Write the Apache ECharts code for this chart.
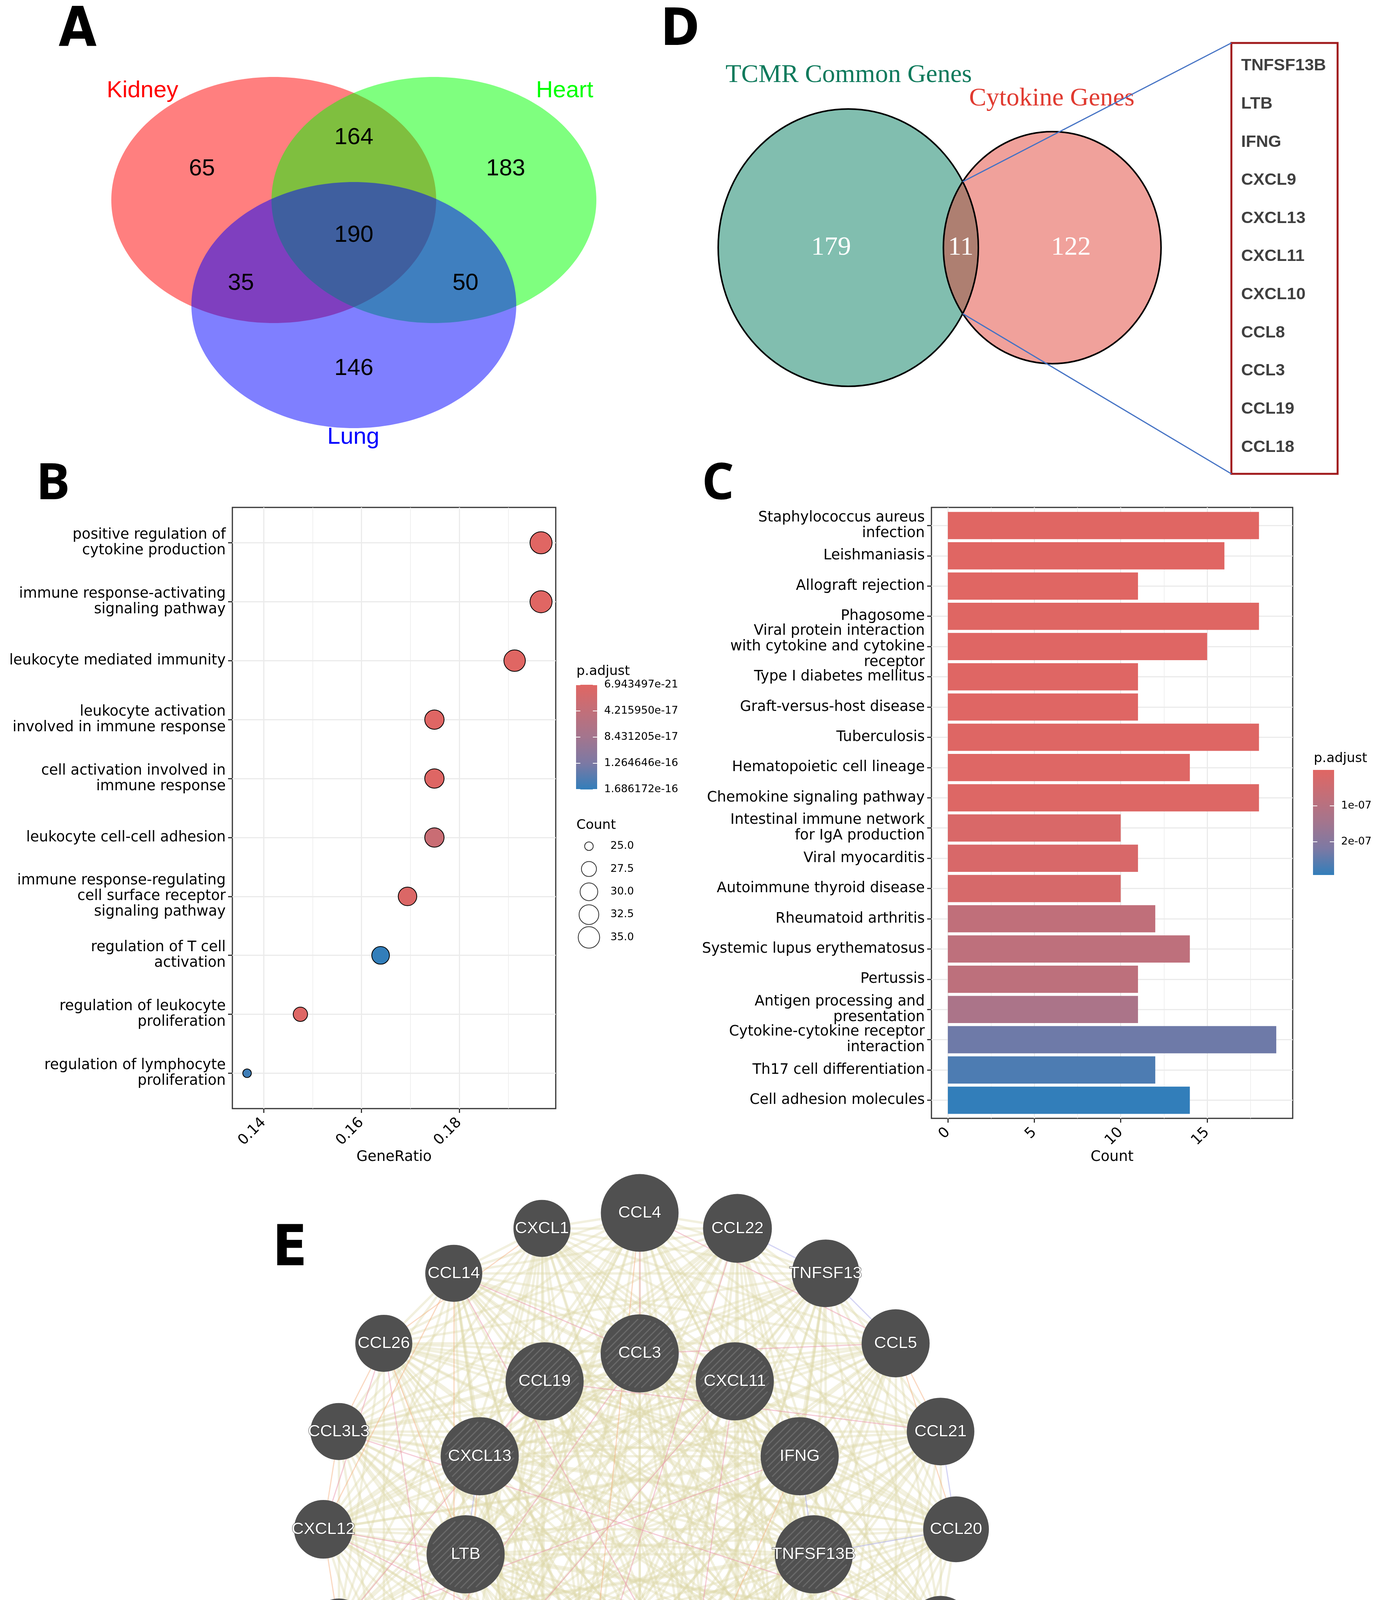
<!DOCTYPE html>
<html>
<head>
<meta charset="utf-8">
<title>TCMR figure</title>
<script src="https://cdn.jsdelivr.net/npm/echarts@6.0.0/dist/echarts.min.js"></script>
<style>
html,body{margin:0;padding:0;background:#ffffff;}
#chart{width:3531px;height:4826px;}
</style>
</head>
<body>
<div id="chart"></div>
<script>
// ======================= DATA =======================
// Panel A : three-organ Venn diagram
const organSets = ['Kidney', 'Heart', 'Lung'];
// Kidney only, Kidney&Heart, Heart only, all three, Kidney&Lung, Heart&Lung, Lung only
const organRegionCounts = [65, 164, 183, 190, 35, 50, 146];

// Panel D : TCMR common genes vs cytokine genes
const tcmrSets = ['TCMR Common Genes', 'Cytokine Genes'];
const tcmrRegionCounts = [179, 11, 122];   // TCMR only, shared, cytokine only
const sharedGenes = ['TNFSF13B', 'LTB', 'IFNG', 'CXCL9', 'CXCL13', 'CXCL11', 'CXCL10', 'CCL8', 'CCL3', 'CCL19', 'CCL18'];

// Panel B : GO enrichment dot plot
const goTerms = [
  'positive regulation of cytokine production',
  'immune response-activating signaling pathway',
  'leukocyte mediated immunity',
  'leukocyte activation involved in immune response',
  'cell activation involved in immune response',
  'leukocyte cell-cell adhesion',
  'immune response-regulating cell surface receptor signaling pathway',
  'regulation of T cell activation',
  'regulation of leukocyte proliferation',
  'regulation of lymphocyte proliferation'
];
const goGeneRatio = [0.1967, 0.1967, 0.1913, 0.1749, 0.1749, 0.1749, 0.1694, 0.1639, 0.1475, 0.1366];
const goCount = [36, 36, 35, 32, 32, 32, 31, 30, 27, 25];
const goPAdjust = [6.943497e-21, 4.1e-20, 1.2e-19, 9.7e-19, 2.2e-18, 3.2e-17, 6.5e-18, 1.686172e-16, 3.1e-18, 1.62e-16];
const goRatioTicks = [0.14, 0.16, 0.18];
const goRatioMinorTicks = [0.15, 0.17, 0.19];
const goPTickLabels = ['6.943497e-21', '4.215950e-17', '8.431205e-17', '1.264646e-16', '1.686172e-16'];
const countLegendValues = [25.0, 27.5, 30.0, 32.5, 35.0];

// Panel C : KEGG enrichment bar plot
const keggTerms = [
  'Staphylococcus aureus infection',
  'Leishmaniasis',
  'Allograft rejection',
  'Phagosome',
  'Viral protein interaction with cytokine and cytokine receptor',
  'Type I diabetes mellitus',
  'Graft-versus-host disease',
  'Tuberculosis',
  'Hematopoietic cell lineage',
  'Chemokine signaling pathway',
  'Intestinal immune network for IgA production',
  'Viral myocarditis',
  'Autoimmune thyroid disease',
  'Rheumatoid arthritis',
  'Systemic lupus erythematosus',
  'Pertussis',
  'Antigen processing and presentation',
  'Cytokine-cytokine receptor interaction',
  'Th17 cell differentiation',
  'Cell adhesion molecules'
];
const keggCount = [18, 16, 11, 18, 15, 11, 11, 18, 14, 18, 10, 11, 10, 12, 14, 11, 11, 19, 12, 14];
const keggPAdjust = [1.2e-10, 4.5e-10, 9.0e-10, 1.4e-9, 2.2e-9, 3.0e-9, 3.4e-9, 4.1e-9, 5.5e-9, 8.0e-9,
                     1.6e-8, 1.9e-8, 2.4e-8, 7.8e-8, 8.2e-8, 8.4e-8, 1.28e-7, 2.33e-7, 2.65e-7, 2.92e-7];
const keggCountTicks = [0, 5, 10, 15];
const keggCountMinorTicks = [2.5, 7.5, 12.5, 17.5];
const keggPTickValues = [1e-7, 2e-7];
const keggPTickLabels = ['1e-07', '2e-07'];

// Panel E : gene network
const hubGenes = ['CCL3', 'CXCL11', 'IFNG', 'TNFSF13B', 'CCL8', 'CXCL10', 'CCL18', 'CXCL9', 'LTB', 'CXCL13', 'CCL19'];
const neighbourGenes = ['CCL4', 'CCL22', 'TNFSF13', 'CCL5', 'CCL21', 'CCL20', 'CCL4L2', 'CCL2', 'CXCL8', 'CCL7',
                        'PF4V1', 'XCL2', 'CCL11', 'CCL3L1', 'PSMB10', 'CXCL12', 'CCL3L3', 'CCL26', 'CCL14', 'CXCL1'];
const neighbourScore = [1.00, 0.57, 0.51, 0.53, 0.51, 0.42, 0.26, 0.30, 0.23, 0.08,
                        0.00, 0.02, 0.00, 0.02, 0.00, 0.08, 0.00, 0.00, 0.00, 0.00];
const physicalEdges = [['CCL3','CCL4'],['CCL3','CCL5'],['CCL4','CCL5'],['CXCL9','CXCL10'],['CXCL10','CXCL11'],
  ['CXCL9','CXCL11'],['CCL19','CCL21'],['CXCL12','CXCL8'],['CCL2','CCL7'],['CCL2','CCL8'],['CCL7','CCL8'],
  ['CCL11','CCL26'],['CCL3L1','CCL3'],['CCL3L3','CCL4L2'],['PSMB10','IFNG'],['CXCL12','CCL26'],['CCL14','CCL3'],
  ['CXCL13','CCL19'],['CCL18','CCL22'],['CCL3L1','CCL18'],['PSMB10','CCL19'],['CCL14','CXCL10'],['CXCL12','LTB']];
const predictedEdges = [['CCL14','CXCL12'],['CCL26','CCL3L3'],['CCL3L3','CXCL12'],['PSMB10','CXCL12'],['CCL18','CCL4'],
  ['CXCL1','CCL26'],['CCL11','CCL14'],['CCL5','CCL21'],['CCL5','CCL20'],['IFNG','CXCL10'],['CXCL13','CCL11'],
  ['CCL8','CXCL8'],['CCL26','LTB'],['CCL3L1','CCL11']];
const colocalEdges = [['CCL22','TNFSF13'],['TNFSF13','CCL5'],['CCL4L2','CCL2'],['CCL2','CXCL8'],['CCL7','PF4V1'],
  ['XCL2','PF4V1'],['PF4V1','CCL11'],['CCL21','CCL20'],['LTB','CXCL13'],['IFNG','TNFSF13B'],['CCL20','TNFSF13B']];

// ======================= LAYOUT & STYLE =======================
const GRAD = ['#e06663', '#c26f79', '#a3758e', '#7c79a4', '#327eba'];
const F_SANS = "'DejaVu Sans', sans-serif";
const F_ARIAL = "'Liberation Sans', Arial, sans-serif";
const F_SERIF = "'Liberation Serif', 'Times New Roman', serif";
const F_LETTER = "'DejaVu Sans Condensed', 'DejaVu Sans', sans-serif";
const F_LETTER2 = "'Open Sans', 'DejaVu Sans', sans-serif";

const LAYOUT = {
  A: { grid: {left: 285, top: 197, width: 1242, height: 900}, xMax: 2.986, yMax: 2.857,
       centres: [[1.0, 1.0], [1.986, 1.0], [1.493, 1.854]], radius: 1.0,
       fills: ['rgba(255,0,0,0.5)', 'rgba(0,255,0,0.5)', 'rgba(0,0,255,0.5)'],
       labelColors: ['#ff0000', '#00ff00', '#0000ff'],
       regionPos: [[0.558, 0.749], [1.493, 0.492], [2.428, 0.749], [1.493, 1.286], [0.798, 1.679], [2.180, 1.679], [1.493, 2.368]],
       setLabelPos: [[0.192, 0.114], [2.791, 0.114], [1.490, 2.927]] },
  D: { grid: {left: 1839, top: 279, width: 1134, height: 710}, xMax: 3.405, yMax: 2.0,
       centres: [[1.0, 1.0], [2.568, 1.0]],
       fills: ['rgba(3,125,95,0.5)', 'rgba(224,59,45,0.48)'],
       titleColors: ['#0e7a5c', '#e03a30'],
       titlePos: [[1.003, -0.242], [2.565, -0.073]],
       regionPos: [[0.868, 1.0], [1.865, 1.0], [2.712, 1.0]] },
  DBox: {left: 3153, top: 110, width: 272, height: 1103},
  B: {left: 595, top: 1299, width: 828, height: 1539},
  BBar: {left: 1475, top: 1753, width: 54, height: 268},
  BCount: {left: 1470, top: 2137, width: 76, height: 292},
  C: {left: 2385, top: 1299, width: 925, height: 1564},
  CBar: {left: 3362, top: 1971, width: 54, height: 269},
  E: {cx: 1638, cy: 3915, unit: 810, innerR: 0.556, span: 1.2, hubSize: 200}
};

// ======================= HELPERS =======================
function wrapLabel(s, w) {
  const words = s.split(' '); const lines = []; let cur = '';
  words.forEach(wd => {
    if (!cur) cur = wd;
    else if ((cur + ' ' + wd).length <= w) cur += ' ' + wd;
    else { lines.push(cur); cur = wd; }
  });
  if (cur) lines.push(cur);
  return lines.join('\n');
}
function txt(x, y, text, o) {
  o = o || {};
  const align = o.align || 'center';
  return { type: 'text', x: x, y: y, silent: true,
    style: { text: text, fill: o.fill || '#000', fontSize: o.fontSize || 40, fontFamily: o.fontFamily || F_ARIAL,
      fontWeight: o.fontWeight || 'normal', align: align, verticalAlign: 'middle',
      textAlign: align, textVerticalAlign: 'middle' } };
}
const cMin = Math.min.apply(null, goCount), cMax = Math.max.apply(null, goCount);
function dotSize(c) { return 22 + (56.5 - 22) * Math.sqrt(Math.max(0, (c - cMin)) / (cMax - cMin)); }
function grid(r, extra) { return Object.assign({left: r.left, top: r.top, width: r.width, height: r.height, outerBoundsMode: 'none', containLabel: false}, extra || {}); }
function hiddenAxis(gi, min, max, inverse) { return {gridIndex: gi, type: 'value', show: false, min: min, max: max, inverse: !!inverse, axisLine: {onZero: false}}; }

// derived ranges
const bxMinD = Math.min.apply(null, goGeneRatio), bxMaxD = Math.max.apply(null, goGeneRatio);
const bxPad = (bxMaxD - bxMinD) * 0.05;
const cxMaxD = Math.max.apply(null, keggCount);
const cxPad = cxMaxD * 0.05;
const pMinB = Math.min.apply(null, goPAdjust), pMaxB = Math.max.apply(null, goPAdjust);
const pMinC = Math.min.apply(null, keggPAdjust), pMaxC = Math.max.apply(null, keggPAdjust);

// Venn D radii: area proportional to set sizes
const tcmrTotals = [tcmrRegionCounts[0] + tcmrRegionCounts[1], tcmrRegionCounts[2] + tcmrRegionCounts[1]];
const rD = tcmrTotals.map(t => Math.sqrt(t / tcmrTotals[0]));
const dC0 = LAYOUT.D.centres[0], dC1 = LAYOUT.D.centres[1];
const dd = dC1[0] - dC0[0];
const da = (dd * dd + rD[0] * rD[0] - rD[1] * rD[1]) / (2 * dd);
const dh = Math.sqrt(rD[0] * rD[0] - da * da);
const lensPts = [[dC0[0] + da, dC0[1] - dh], [dC0[0] + da, dC0[1] + dh]];

// network
const allGenes = hubGenes.concat(neighbourGenes);
const nodes = [];
hubGenes.forEach((g, j) => {
  const t = j * 2 * Math.PI / hubGenes.length;
  nodes.push({name: g, value: [LAYOUT.E.innerR * Math.sin(t), LAYOUT.E.innerR * Math.cos(t)], symbolSize: LAYOUT.E.hubSize,
    itemStyle: {color: '#505050'}});
});
neighbourGenes.forEach((g, i) => {
  const t = i * 2 * Math.PI / neighbourGenes.length;
  nodes.push({name: g, value: [Math.sin(t), Math.cos(t)], symbolSize: 146 + 53 * neighbourScore[i],
    itemStyle: {color: '#505050'}});
});
const special = {};
physicalEdges.forEach(e => { special[e[0] + '|' + e[1]] = special[e[1] + '|' + e[0]] = 'rgba(232,140,165,1)'; });
predictedEdges.forEach(e => { special[e[0] + '|' + e[1]] = special[e[1] + '|' + e[0]] = 'rgba(244,170,120,1)'; });
colocalEdges.forEach(e => { special[e[0] + '|' + e[1]] = special[e[1] + '|' + e[0]] = 'rgba(160,160,230,1)'; });
const baseLinks = [], colLinks = [];
for (let i = 0; i < allGenes.length; i++) {
  for (let j = i + 1; j < allGenes.length; j++) {
    const key = allGenes[i] + '|' + allGenes[j];
    if (special[key]) colLinks.push({source: allGenes[i], target: allGenes[j], lineStyle: {color: special[key], opacity: 0.45, width: 3}});
    else baseLinks.push({source: allGenes[i], target: allGenes[j]});
  }
}
const links = baseLinks.concat(colLinks);

const idxB = goTerms.map((t, i) => i);
const idxC = keggTerms.map((t, i) => i);

// ======================= CHART =======================
const chart = echarts.init(document.getElementById('chart'), null, {renderer: 'canvas', width: 3531, height: 4826});

const tickStyle = {color: '#333333', width: 3};
const gridLine = {color: '#ebebeb', width: 3};
const gridLineMinor = {color: '#ebebeb', width: 1.5};
const axLab = {fontSize: 37, color: '#000', fontFamily: F_SANS, hideOverlap: false};

const option = {
  animation: false,
  backgroundColor: '#ffffff',
  title: [
    {text: 'A', left: 150, top: 12, padding: 0, textStyle: {fontSize: 140, lineHeight: 140, fontWeight: 'bold', fontFamily: F_LETTER, color: '#000'}},
    {text: 'D', left: 1692, top: 15, padding: 0, textStyle: {fontSize: 132, lineHeight: 132, fontWeight: 'bold', fontFamily: F_LETTER, color: '#000'}},
    {text: 'B', left: 92, top: 1176, padding: 0, textStyle: {fontSize: 130, lineHeight: 130, fontWeight: 'bold', fontFamily: F_LETTER2, color: '#000'}},
    {text: 'C', left: 1797, top: 1176, padding: 0, textStyle: {fontSize: 130, lineHeight: 130, fontWeight: 'bold', fontFamily: F_LETTER2, color: '#000'}},
    {text: 'E', left: 698, top: 3130, padding: 0, textStyle: {fontSize: 144, lineHeight: 144, fontWeight: 'bold', fontFamily: F_LETTER, color: '#000'}},
    {text: 'p.adjust', left: 1476, top: 1702, padding: 0, textStyle: {fontSize: 34, lineHeight: 34, fontWeight: 'normal', fontFamily: F_SANS, color: '#000'}},
    {text: 'Count', left: 1476, top: 2096, padding: 0, textStyle: {fontSize: 34, lineHeight: 34, fontWeight: 'normal', fontFamily: F_SANS, color: '#000'}},
    {text: 'p.adjust', left: 3364, top: 1925, padding: 0, textStyle: {fontSize: 34, lineHeight: 34, fontWeight: 'normal', fontFamily: F_SANS, color: '#000'}}
  ],
  grid: [
    grid(LAYOUT.A.grid),                       // 0
    grid(LAYOUT.D.grid),                       // 1
    grid(LAYOUT.DBox, {show: true, borderColor: '#a0191b', borderWidth: 5, backgroundColor: 'transparent'}), // 2
    grid(LAYOUT.B, {show: true, borderColor: '#333333', borderWidth: 3, backgroundColor: 'transparent'}),    // 3
    grid(LAYOUT.BBar),                         // 4
    grid(LAYOUT.BCount),                       // 5
    grid(LAYOUT.C, {show: true, borderColor: '#333333', borderWidth: 3, backgroundColor: 'transparent'}),    // 6
    grid(LAYOUT.CBar),                         // 7
    grid({left: LAYOUT.E.cx - LAYOUT.E.span * LAYOUT.E.unit, top: LAYOUT.E.cy - LAYOUT.E.span * LAYOUT.E.unit,
          width: 2 * LAYOUT.E.span * LAYOUT.E.unit, height: 2 * LAYOUT.E.span * LAYOUT.E.unit}) // 8
  ],
  xAxis: [
    hiddenAxis(0, 0, LAYOUT.A.xMax),
    hiddenAxis(1, 0, LAYOUT.D.xMax),
    hiddenAxis(2, 0, 1),
    { gridIndex: 3, type: 'value', min: bxMinD - bxPad, max: bxMaxD + bxPad, position: 'bottom',
      axisLine: {show: false, onZero: false},
      axisTick: {show: true, length: 11, lineStyle: tickStyle, customValues: goRatioTicks},
      axisLabel: Object.assign({customValues: goRatioTicks, rotate: 45, margin: 30, formatter: v => v.toFixed(2)}, axLab),
      splitLine: {show: true, lineStyle: gridLine},
      name: 'GeneRatio', nameLocation: 'middle', nameGap: 103,
      nameTextStyle: {fontSize: 37, lineHeight: 40, color: '#000', fontFamily: F_SANS} },
    { gridIndex: 3, type: 'value', min: bxMinD - bxPad, max: bxMaxD + bxPad, position: 'top',
      axisLine: {show: false, onZero: false}, axisTick: {show: false, customValues: goRatioMinorTicks},
      axisLabel: {show: false}, splitLine: {show: true, lineStyle: gridLineMinor} },
    hiddenAxis(4, 0, 1),
    hiddenAxis(5, 0, 1),
    { gridIndex: 6, type: 'value', min: -cxPad, max: cxMaxD + cxPad, position: 'bottom',
      axisLine: {show: false, onZero: false},
      axisTick: {show: true, length: 11, lineStyle: tickStyle, customValues: keggCountTicks},
      axisLabel: Object.assign({customValues: keggCountTicks, rotate: 45, margin: 30, formatter: v => String(v)}, axLab),
      splitLine: {show: true, lineStyle: gridLine},
      name: 'Count', nameLocation: 'middle', nameGap: 78,
      nameTextStyle: {fontSize: 37, lineHeight: 40, color: '#000', fontFamily: F_SANS} },
    { gridIndex: 6, type: 'value', min: -cxPad, max: cxMaxD + cxPad, position: 'top',
      axisLine: {show: false, onZero: false}, axisTick: {show: false, customValues: keggCountMinorTicks},
      axisLabel: {show: false}, splitLine: {show: true, lineStyle: gridLineMinor} },
    hiddenAxis(7, 0, 1),
    hiddenAxis(8, -LAYOUT.E.span, LAYOUT.E.span)
  ],
  yAxis: [
    hiddenAxis(0, 0, LAYOUT.A.yMax, true),
    hiddenAxis(1, 0, LAYOUT.D.yMax, true),
    hiddenAxis(2, -0.6, sharedGenes.length - 1 + 0.7, true),
    { gridIndex: 3, type: 'value', inverse: true, min: -0.6, max: goTerms.length - 1 + 0.6,
      axisLine: {show: false, onZero: false},
      axisTick: {show: true, length: 11, lineStyle: tickStyle, customValues: idxB},
      axisLabel: Object.assign({customValues: idxB, margin: 17, lineHeight: 40,
        formatter: v => wrapLabel(goTerms[Math.round(v)], 28)}, axLab),
      splitLine: {show: true, lineStyle: gridLine} },
    { gridIndex: 4, type: 'value', inverse: true, min: 0, max: goPTickLabels.length - 1, position: 'right', z: 10,
      axisLine: {show: false, onZero: false}, splitLine: {show: false},
      axisTick: {show: true, inside: true, length: 11, lineStyle: {color: '#ffffff', width: 2}, customValues: [0, 1, 2, 3, 4]},
      axisLabel: {customValues: [0, 1, 2, 3, 4], margin: 18, fontSize: 27, color: '#000', fontFamily: F_SANS, hideOverlap: false,
        formatter: v => goPTickLabels[Math.round(v)]} },
    { gridIndex: 4, type: 'value', inverse: true, min: 0, max: goPTickLabels.length - 1, position: 'left', z: 10,
      axisLine: {show: false, onZero: false}, splitLine: {show: false}, axisLabel: {show: false},
      axisTick: {show: true, inside: true, length: 11, lineStyle: {color: '#ffffff', width: 2}, customValues: [0, 1, 2, 3, 4]} },
    { gridIndex: 5, type: 'category', inverse: true, position: 'right', data: countLegendValues.map(v => v.toFixed(1)),
      axisLine: {show: false, onZero: false}, axisTick: {show: false}, splitLine: {show: false},
      axisLabel: {margin: 17, fontSize: 27, color: '#000', fontFamily: F_SANS, interval: 0, hideOverlap: false} },
    { gridIndex: 6, type: 'value', inverse: true, min: -0.6, max: keggTerms.length - 1 + 0.6,
      axisLine: {show: false, onZero: false},
      axisTick: {show: true, length: 11, lineStyle: tickStyle, customValues: idxC},
      axisLabel: Object.assign({customValues: idxC, margin: 17, lineHeight: 40,
        formatter: v => wrapLabel(keggTerms[Math.round(v)], 28)}, axLab),
      splitLine: {show: true, lineStyle: gridLine} },
    { gridIndex: 7, type: 'value', inverse: true, min: pMinC, max: pMaxC, position: 'right', z: 10,
      axisLine: {show: false, onZero: false}, splitLine: {show: false},
      axisTick: {show: true, inside: true, length: 11, lineStyle: {color: '#ffffff', width: 2}, customValues: keggPTickValues},
      axisLabel: {customValues: keggPTickValues, margin: 18, fontSize: 27, color: '#000', fontFamily: F_SANS, hideOverlap: false,
        formatter: v => { let best = 0; keggPTickValues.forEach((t, i) => { if (Math.abs(t - v) < Math.abs(keggPTickValues[best] - v)) best = i; }); return keggPTickLabels[best]; }} },
    { gridIndex: 7, type: 'value', inverse: true, min: pMinC, max: pMaxC, position: 'left', z: 10,
      axisLine: {show: false, onZero: false}, splitLine: {show: false}, axisLabel: {show: false},
      axisTick: {show: true, inside: true, length: 11, lineStyle: {color: '#ffffff', width: 2}, customValues: keggPTickValues} },
    hiddenAxis(8, -LAYOUT.E.span, LAYOUT.E.span)
  ],
  visualMap: [
    {type: 'continuous', show: false, seriesIndex: 8, dimension: 2, min: pMinB, max: pMaxB, inRange: {color: GRAD}},
    {type: 'continuous', show: false, seriesIndex: 11, dimension: 2, min: pMinC, max: pMaxC, inRange: {color: GRAD}}
  ],
  series: [
    // 0 Venn A fills
    { type: 'custom', xAxisIndex: 0, yAxisIndex: 0, clip: false, silent: true,
      data: organSets.map((s, i) => [LAYOUT.A.centres[i][0], LAYOUT.A.centres[i][1], LAYOUT.A.radius]),
      renderItem: (params, api) => {
        const c = api.coord([api.value(0), api.value(1)]);
        const s = api.size([api.value(2), api.value(2)]);
        return {type: 'ellipse', shape: {cx: c[0], cy: c[1], rx: s[0], ry: s[1]}, style: {fill: LAYOUT.A.fills[params.dataIndex]}};
      } },
    // 1 Venn A region counts
    { type: 'custom', xAxisIndex: 0, yAxisIndex: 0, clip: false, silent: true, z: 5,
      data: organRegionCounts.map((c, i) => [LAYOUT.A.regionPos[i][0], LAYOUT.A.regionPos[i][1], c]),
      renderItem: (params, api) => {
        const p = api.coord([api.value(0), api.value(1)]);
        return txt(p[0], p[1], String(api.value(2)), {fontSize: 60, fontFamily: F_ARIAL, fill: '#000'});
      } },
    // 2 Venn A set labels
    { type: 'custom', xAxisIndex: 0, yAxisIndex: 0, clip: false, silent: true, z: 5,
      data: organSets.map((s, i) => [LAYOUT.A.setLabelPos[i][0], LAYOUT.A.setLabelPos[i][1]]),
      renderItem: (params, api) => {
        const p = api.coord([api.value(0), api.value(1)]);
        return txt(p[0], p[1], organSets[params.dataIndex], {fontSize: 60, fontFamily: F_ARIAL, fill: LAYOUT.A.labelColors[params.dataIndex]});
      } },
    // 3 Venn D fills
    { type: 'custom', xAxisIndex: 1, yAxisIndex: 1, clip: false, silent: true,
      data: tcmrSets.map((s, i) => [LAYOUT.D.centres[i][0], LAYOUT.D.centres[i][1], rD[i]]),
      renderItem: (params, api) => {
        const c = api.coord([api.value(0), api.value(1)]);
        const s = api.size([api.value(2), api.value(2)]);
        return {type: 'ellipse', shape: {cx: c[0], cy: c[1], rx: s[0], ry: s[1]}, style: {fill: LAYOUT.D.fills[params.dataIndex]}};
      } },
    // 4 Venn D outlines
    { type: 'custom', xAxisIndex: 1, yAxisIndex: 1, clip: false, silent: true, z: 3,
      data: tcmrSets.map((s, i) => [LAYOUT.D.centres[i][0], LAYOUT.D.centres[i][1], rD[i]]),
      renderItem: (params, api) => {
        const c = api.coord([api.value(0), api.value(1)]);
        const s = api.size([api.value(2), api.value(2)]);
        return {type: 'ellipse', shape: {cx: c[0], cy: c[1], rx: s[0], ry: s[1]}, style: {fill: 'none', stroke: '#000', lineWidth: 4}};
      } },
    // 5 Venn D texts (titles + counts)
    { type: 'custom', xAxisIndex: 1, yAxisIndex: 1, clip: false, silent: true, z: 5,
      data: tcmrRegionCounts.map((c, i) => [LAYOUT.D.regionPos[i][0], LAYOUT.D.regionPos[i][1], c]),
      renderItem: (params, api) => {
        const p = api.coord([api.value(0), api.value(1)]);
        const kids = [txt(p[0], p[1], String(api.value(2)), {fontSize: 68, fontFamily: F_SERIF, fill: '#ffffff'})];
        if (params.dataIndex === 0) {
          tcmrSets.forEach((s, i) => {
            const q = api.coord(LAYOUT.D.titlePos[i]);
            kids.push(txt(q[0], q[1], s, {fontSize: 66, fontFamily: F_SERIF, fill: LAYOUT.D.titleColors[i]}));
          });
        }
        return {type: 'group', children: kids};
      } },
    // 6 connector lines from the overlap to the gene box
    { type: 'custom', xAxisIndex: 1, yAxisIndex: 1, clip: false, silent: true, z: 6,
      data: lensPts,
      renderItem: (params, api) => {
        const p = api.coord([api.value(0), api.value(1)]);
        const tx = LAYOUT.DBox.left;
        const ty = params.dataIndex === 0 ? LAYOUT.DBox.top : LAYOUT.DBox.top + LAYOUT.DBox.height;
        return {type: 'line', shape: {x1: p[0], y1: p[1], x2: tx, y2: ty}, style: {stroke: '#4472c4', lineWidth: 3}};
      } },
    // 7 shared gene list
    { type: 'custom', xAxisIndex: 2, yAxisIndex: 2, clip: false, silent: true,
      data: sharedGenes.map((g, i) => [0, i]),
      renderItem: (params, api) => {
        const p = api.coord([api.value(0), api.value(1)]);
        return txt(p[0] + 25, p[1], sharedGenes[params.dataIndex], {align: 'left', fontSize: 43, fontWeight: 'bold', fontFamily: F_ARIAL, fill: '#404040'});
      } },
    // 8 GO dot plot
    { type: 'scatter', xAxisIndex: 3, yAxisIndex: 3, silent: true,
      data: goTerms.map((t, i) => [goGeneRatio[i], i, goPAdjust[i], goCount[i]]),
      symbolSize: v => dotSize(v[3]),
      itemStyle: {borderColor: '#000', borderWidth: 2, opacity: 1} },
    // 9 GO colour bar
    { type: 'custom', xAxisIndex: 5, yAxisIndex: 4, silent: true, z: 2,
      data: [[0.5, 0]],
      renderItem: (params, api) => {
        const cs = params.coordSys;
        return {type: 'rect', shape: {x: cs.x, y: cs.y, width: cs.width, height: cs.height},
          style: {fill: new echarts.graphic.LinearGradient(0, 0, 0, 1, GRAD.map((c, i) => ({offset: i / (GRAD.length - 1), color: c})))}};
      } },
    // 10 Count size legend
    { type: 'scatter', xAxisIndex: 6, yAxisIndex: 6, silent: true,
      data: countLegendValues.map((v, i) => [0.5, i, v]),
      symbolSize: v => dotSize(v[2]),
      itemStyle: {color: 'rgba(0,0,0,0)', borderColor: '#000', borderWidth: 2} },
    // 11 KEGG bars
    { type: 'custom', xAxisIndex: 7, yAxisIndex: 7, silent: true,
      data: keggTerms.map((t, i) => [keggCount[i], i, keggPAdjust[i]]),
      renderItem: (params, api) => {
        const p0 = api.coord([0, api.value(1)]);
        const p1 = api.coord([api.value(0), api.value(1)]);
        const h = api.size([0, 0.9])[1];
        return {type: 'rect', shape: {x: p0[0], y: p0[1] - h / 2, width: p1[0] - p0[0], height: h}, style: {fill: api.visual('color')}};
      } },
    // 12 KEGG colour bar
    { type: 'custom', xAxisIndex: 9, yAxisIndex: 8, silent: true, z: 2,
      data: [[0.5, pMinC]],
      renderItem: (params, api) => {
        const cs = params.coordSys;
        return {type: 'rect', shape: {x: cs.x, y: cs.y, width: cs.width, height: cs.height},
          style: {fill: new echarts.graphic.LinearGradient(0, 0, 0, 1, GRAD.map((c, i) => ({offset: i / (GRAD.length - 1), color: c})))}};
      } },
    // 13 network
    { type: 'graph', coordinateSystem: 'cartesian2d', xAxisIndex: 10, yAxisIndex: 10, silent: true,
      data: nodes, links: links, edgeSymbol: ['none', 'none'],
      lineStyle: {color: '#dcd7a8', width: 6, opacity: 0.38, curveness: 0},
      label: {show: true, position: 'inside', color: '#ffffff', fontSize: 43, fontFamily: F_ARIAL,
        textBorderColor: 'rgba(40,40,40,0.8)', textBorderWidth: 2},
      emphasis: {disabled: true} },
    // 14 diagonal hatching on the query (hub) genes
    { type: 'custom', xAxisIndex: 10, yAxisIndex: 10, clip: false, silent: true, z: 3,
      data: hubGenes.map((g, j) => [nodes[j].value[0], nodes[j].value[1]]),
      renderItem: (params, api) => {
        const c = api.coord([api.value(0), api.value(1)]);
        const R = LAYOUT.E.hubSize / 2 - 12;
        const step = 13, k = Math.SQRT1_2;
        const kids = [];
        for (let d = -Math.floor(R / step) * step; d <= R; d += step) {
          const L = Math.sqrt(Math.max(0, R * R - d * d));
          const px = c[0] + d * k, py = c[1] + d * k;
          kids.push({type: 'line', shape: {x1: px - L * k, y1: py + L * k, x2: px + L * k, y2: py - L * k},
            style: {stroke: 'rgba(255,255,255,0.15)', lineWidth: 3}});
        }
        return {type: 'group', children: kids};
      } }
  ]
};
chart.setOption(option);
</script>
</body>
</html>
